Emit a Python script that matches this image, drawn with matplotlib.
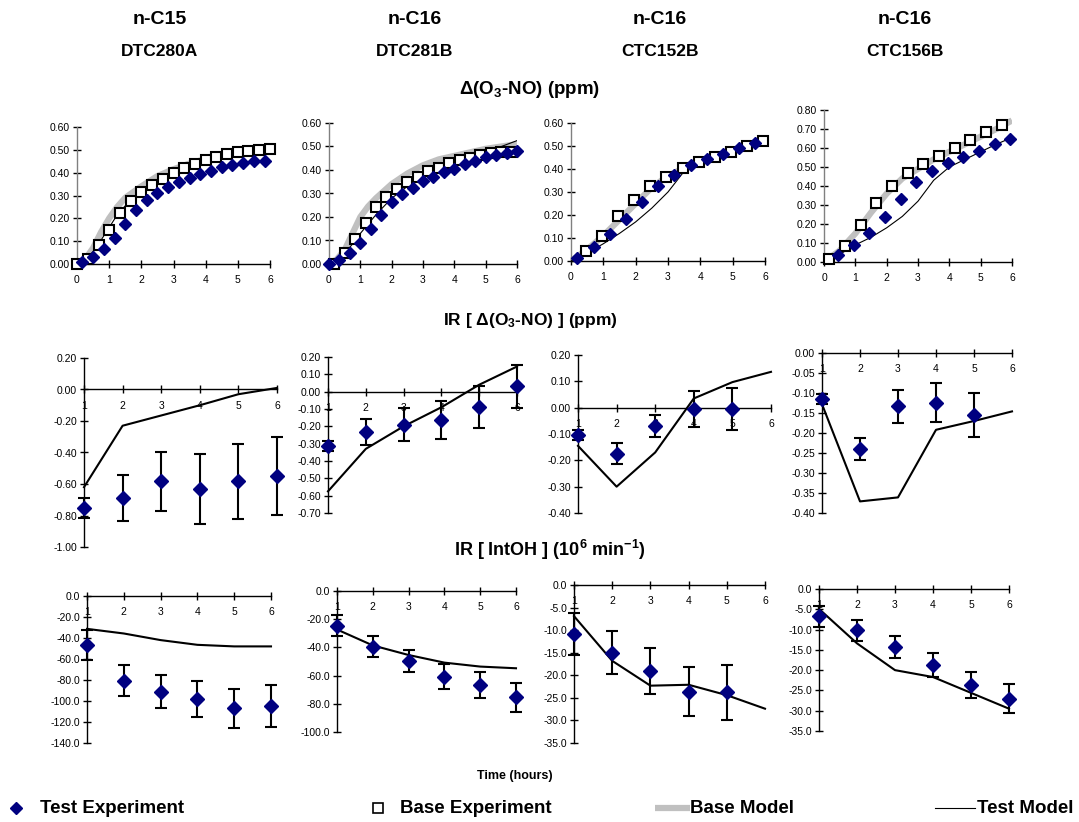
import numpy as np
import matplotlib
matplotlib.use("Agg")
import matplotlib.pyplot as plt
from matplotlib.ticker import FormatStrFormatter, MultipleLocator
from matplotlib.lines import Line2D

plt.rcParams['font.family'] = ['Liberation Sans', 'DejaVu Sans']
plt.rcParams['axes.unicode_minus'] = False
plt.rcParams['mathtext.fontset'] = 'custom'
plt.rcParams['mathtext.rm'] = 'Liberation Sans:bold'
plt.rcParams['mathtext.it'] = 'Liberation Sans:bold'
plt.rcParams['mathtext.bf'] = 'Liberation Sans:bold'

W, H = 1079, 822
NAVY = '#000080'
GRAY = '#C0C0C0'

compounds = ['n-C15', 'n-C16', 'n-C16', 'n-C16']
runs = ['DTC280A', 'DTC281B', 'CTC152B', 'CTC156B']

# ---- row 1: d(O3-NO) time series (ppm) ----
test_t = [
    [0.17, 0.5, 0.83, 1.17, 1.5, 1.83, 2.17, 2.5, 2.83, 3.17, 3.5, 3.83, 4.17, 4.5, 4.83, 5.17, 5.5, 5.83],
    [0, 0.33, 0.67, 1.0, 1.33, 1.67, 2.0, 2.33, 2.67, 3.0, 3.33, 3.67, 4.0, 4.33, 4.67, 5.0, 5.33, 5.67, 6.0],
    [0.2, 0.7, 1.2, 1.7, 2.2, 2.7, 3.2, 3.7, 4.2, 4.7, 5.2, 5.7],
    [0.45, 0.95, 1.45, 1.95, 2.45, 2.95, 3.45, 3.95, 4.45, 4.95, 5.45, 5.95],
]
test_y = [
    [0.01, 0.03, 0.065, 0.115, 0.175, 0.235, 0.28, 0.31, 0.337, 0.36, 0.376, 0.394, 0.408, 0.423, 0.433, 0.442, 0.449, 0.452],
    [0, 0.017, 0.045, 0.088, 0.148, 0.209, 0.262, 0.298, 0.325, 0.353, 0.372, 0.391, 0.406, 0.425, 0.438, 0.454, 0.465, 0.474, 0.481],
    [0.015, 0.062, 0.116, 0.183, 0.256, 0.324, 0.374, 0.416, 0.445, 0.465, 0.49, 0.512],
    [0.035, 0.088, 0.153, 0.237, 0.332, 0.422, 0.48, 0.522, 0.55, 0.585, 0.619, 0.647],
]
base_t = [
    [0, 0.33, 0.67, 1.0, 1.33, 1.67, 2.0, 2.33, 2.67, 3.0, 3.33, 3.67, 4.0, 4.33, 4.67, 5.0, 5.33, 5.67, 6.0],
    [0.17, 0.5, 0.83, 1.17, 1.5, 1.83, 2.17, 2.5, 2.83, 3.17, 3.5, 3.83, 4.17, 4.5, 4.83, 5.17, 5.5, 5.83],
    [0.45, 0.95, 1.45, 1.95, 2.45, 2.95, 3.45, 3.95, 4.45, 4.95, 5.45, 5.95],
    [0.17, 0.67, 1.17, 1.67, 2.17, 2.67, 3.17, 3.67, 4.17, 4.67, 5.17, 5.67],
]
base_y = [
    [0, 0.022, 0.083, 0.151, 0.222, 0.278, 0.315, 0.347, 0.374, 0.398, 0.419, 0.439, 0.455, 0.469, 0.483, 0.491, 0.497, 0.501, 0.504],
    [0, 0.045, 0.108, 0.176, 0.241, 0.284, 0.32, 0.347, 0.372, 0.396, 0.41, 0.428, 0.442, 0.452, 0.464, 0.471, 0.477, 0.478],
    [0.045, 0.11, 0.195, 0.265, 0.324, 0.366, 0.403, 0.43, 0.452, 0.474, 0.498, 0.523],
    [0.018, 0.084, 0.193, 0.309, 0.399, 0.466, 0.515, 0.557, 0.6, 0.641, 0.684, 0.72],
]
model_t = [
    [0, 0.25, 0.5, 0.75, 1, 1.25, 1.5, 2, 2.5, 3, 3.5, 4, 4.5, 5, 5.5, 6],
    [0, 0.25, 0.5, 0.75, 1, 1.25, 1.5, 2, 2.5, 3, 3.5, 4, 4.5, 5, 5.5, 6],
    [0, 0.5, 1, 1.5, 2, 2.5, 3, 3.5, 4, 4.5, 5, 5.5, 6],
    [0, 0.5, 1, 1.5, 2, 2.5, 3, 3.5, 4, 4.5, 5, 5.5, 6],
]
base_model = [
    [0, 0.02, 0.07, 0.14, 0.2, 0.25, 0.29, 0.34, 0.385, 0.415, 0.44, 0.46, 0.475, 0.49, 0.5, 0.505],
    [0, 0.02, 0.06, 0.13, 0.2, 0.245, 0.28, 0.34, 0.385, 0.42, 0.445, 0.46, 0.475, 0.49, 0.5, 0.51],
    [0, 0.05, 0.11, 0.18, 0.25, 0.32, 0.37, 0.405, 0.43, 0.455, 0.475, 0.5, 0.525],
    [0, 0.06, 0.15, 0.26, 0.36, 0.44, 0.49, 0.54, 0.58, 0.62, 0.66, 0.7, 0.745],
]
test_model = [
    [0, 0.015, 0.055, 0.105, 0.16, 0.215, 0.255, 0.31, 0.35, 0.39, 0.42, 0.445, 0.465, 0.48, 0.49, 0.5],
    [0, 0.01, 0.045, 0.085, 0.13, 0.17, 0.21, 0.28, 0.33, 0.37, 0.4, 0.43, 0.455, 0.48, 0.5, 0.525],
    [0, 0.035, 0.075, 0.12, 0.17, 0.23, 0.3, 0.39, 0.43, 0.455, 0.475, 0.5, 0.52],
    [0, 0.04, 0.09, 0.13, 0.18, 0.24, 0.32, 0.43, 0.5, 0.54, 0.58, 0.62, 0.655],
]
row1_ymax = [0.6, 0.6, 0.6, 0.8]

# ---- row 2: IR[d(O3-NO)] (ppm) ----
hours = [1, 2, 3, 4, 5, 6]
ir_o3 = [
    [-0.753, -0.69, -0.584, -0.631, -0.584, -0.548],
    [-0.313, -0.231, -0.192, -0.165, -0.088, 0.03],
    [-0.105, -0.175, -0.069, -0.005, -0.005],
    [-0.115, -0.24, -0.133, -0.124, -0.155],
]
ir_o3_err = [
    [0.062, 0.148, 0.19, 0.22, 0.237, 0.247],
    [0.03, 0.075, 0.095, 0.109, 0.12, 0.125],
    [0.019, 0.04, 0.042, 0.07, 0.078],
    [0.012, 0.027, 0.041, 0.049, 0.055],
]
ir_o3_model = [
    [-0.62, -0.23, -0.165, -0.10, -0.03, 0.01],
    [-0.575, -0.33, -0.2, -0.09, 0.04, 0.145],
    [-0.145, -0.30, -0.17, 0.035, 0.097, 0.136],
    [-0.128, -0.371, -0.361, -0.192, -0.17, -0.146],
]
row2_ylim = [(-1.0, 0.2), (-0.7, 0.2), (-0.4, 0.2), (-0.4, 0.0)]
row2_step = [0.2, 0.1, 0.1, 0.05]

# ---- row 3: IR[IntOH] (10^6 min^-1) ----
ir_oh = [
    [-46.5, -80.6, -91.3, -98.3, -107.1, -104.9],
    [-24.5, -39.5, -49.4, -60.7, -66.6, -75.5],
    [-10.8, -15.0, -19.0, -23.6, -23.8],
    [-6.75, -10.2, -14.3, -18.8, -23.7, -27.0],
]
ir_oh_err = [
    [14, 14.7, 15.8, 17, 19, 20.3],
    [7.3, 7.6, 7.8, 8.6, 9.2, 10.1],
    [4.6, 4.75, 5.1, 5.45, 6.0],
    [2.5, 2.55, 2.8, 3.0, 3.2, 3.5],
]
ir_oh_model = [
    [-31.3, -35.7, -42, -46.5, -48, -48],
    [-27.3, -38.6, -45.4, -50.8, -53.6, -54.8],
    [-6.9, -16.8, -22.3, -22.1, -24.4, -27.4],
    [-4.9, -13.4, -20.0, -21.7, -25.6, -29.5],
]
row3_ylim = [(-140, 0), (-100, 0), (-35, 0), (-35, 0)]
row3_step = [20, 20, 5, 5]

# axes boxes in pixels: x_left, x_right, y_top, y_bottom
boxes1 = [(77, 270, 127, 264), (329, 517, 123, 264), (571, 765, 123, 261), (824, 1012, 110, 262)]
boxes2 = [(84, 277, 358, 547), (328, 517, 357, 513), (578, 771, 355, 513), (822, 1012, 353, 513)]
boxes3 = [(87, 271, 596, 743), (337, 516, 591, 732), (574, 765, 585, 743), (819, 1009, 589, 731)]


def place(ax, box):
    x0, x1, y0, y1 = box
    ax.set_position([x0 / W, 1 - y1 / H, (x1 - x0) / W, (y1 - y0) / H])


def style(ax):
    for s in ['top', 'right']:
        ax.spines[s].set_visible(False)
    for s in ['left', 'bottom']:
        ax.spines[s].set_linewidth(1.0)
    ax.tick_params(direction='inout', length=6, width=1.0, labelsize=7.5, pad=2)
    ax.patch.set_alpha(0)


fig = plt.figure(figsize=(W / 100, H / 100), dpi=100)

# row 1
for i in range(4):
    ax = fig.add_axes([0, 0, 1, 1])
    place(ax, boxes1[i])
    style(ax)
    ax.spines['left'].set_color('#808080')
    ax.plot(model_t[i], base_model[i], color=GRAY, lw=4.5, solid_capstyle='butt', zorder=2)
    ax.plot(model_t[i], test_model[i], color='black', lw=0.8, zorder=3)
    ax.plot(base_t[i], base_y[i], 's', ms=7.5, mfc='white', mec='black', mew=1.5, zorder=4, clip_on=False)
    ax.plot(test_t[i], test_y[i], 'D', ms=6.5, color=NAVY, zorder=5, clip_on=False)
    ax.set_xlim(0, 6)
    ax.set_ylim(0, row1_ymax[i])
    ax.xaxis.set_major_locator(MultipleLocator(1))
    ax.yaxis.set_major_locator(MultipleLocator(0.1))
    ax.yaxis.set_major_formatter(FormatStrFormatter('%.2f'))
    ax.tick_params(axis='x', pad=5)

# rows 2 and 3
rows = [
    (boxes2, ir_o3, ir_o3_err, ir_o3_model, row2_ylim, row2_step, '%.2f'),
    (boxes3, ir_oh, ir_oh_err, ir_oh_model, row3_ylim, row3_step, '%.1f'),
]
for boxes, vals, errs, models, ylims, steps, fmt in rows:
    for i in range(4):
        ax = fig.add_axes([0, 0, 1, 1])
        place(ax, boxes[i])
        style(ax)
        ax.spines['bottom'].set_position(('data', 0))
        ax.plot(hours, models[i], color='black', lw=1.5, zorder=3, clip_on=False)
        n = len(vals[i])
        ax.errorbar(hours[:n], vals[i], yerr=errs[i], fmt='D', ms=7, color=NAVY,
                    ecolor='black', elinewidth=1.5, capsize=4, capthick=1.5,
                    zorder=4, clip_on=False)
        ax.set_xlim(1, 6)
        ax.set_ylim(*ylims[i])
        ax.xaxis.set_major_locator(MultipleLocator(1))
        ax.yaxis.set_major_locator(MultipleLocator(steps[i]))
        ax.yaxis.set_major_formatter(FormatStrFormatter(fmt))
        ax.tick_params(axis='x', pad=5)

# headers
centers = [160, 415, 660, 905]
for c, comp, run in zip(centers, compounds, runs):
    fig.text(c / W, 1 - 20 / H, comp, ha='center', va='center', fontsize=14, fontweight='bold')
    fig.text(c / W, 1 - 52 / H, run, ha='center', va='center', fontsize=12.5, fontweight='bold')

fig.text(530 / W, 1 - 90 / H, 'Δ(O$_3$-NO) (ppm)', ha='center', va='center', fontsize=13.5, fontweight='bold')
fig.text(530 / W, 1 - 320 / H, 'IR [ Δ(O$_3$-NO) ] (ppm)', ha='center', va='center', fontsize=12.5, fontweight='bold')
fig.text(550 / W, 1 - 550 / H, 'IR [ IntOH ] (10$^6$ min$^{-1}$)', ha='center', va='center', fontsize=13, fontweight='bold')
fig.text(515 / W, 1 - 776 / H, 'Time (hours)', ha='center', va='center', fontsize=9, fontweight='bold')

# legend row
leg = fig.add_axes([0, 0, 1, 1])
leg.set_xlim(0, W)
leg.set_ylim(H, 0)
leg.axis('off')
ly = 808
leg.add_line(Line2D([16], [ly], marker='D', ms=6, color=NAVY, ls='none'))
leg.text(40, ly, 'Test Experiment', ha='left', va='center', fontsize=13.5, fontweight='bold')
leg.add_line(Line2D([378], [ly], marker='s', ms=6.5, mfc='white', mec='black', mew=1.2, ls='none'))
leg.text(400, ly, 'Base Experiment', ha='left', va='center', fontsize=13.5, fontweight='bold')
leg.add_line(Line2D([655, 690], [ly, ly], color=GRAY, lw=4.5, solid_capstyle='butt'))
leg.text(690, ly, 'Base Model', ha='left', va='center', fontsize=13.5, fontweight='bold')
leg.add_line(Line2D([935, 975], [ly, ly], color='black', lw=0.8))
leg.text(977, ly, 'Test Model', ha='left', va='center', fontsize=13.5, fontweight='bold')

fig.savefig('out.png', dpi=100)
